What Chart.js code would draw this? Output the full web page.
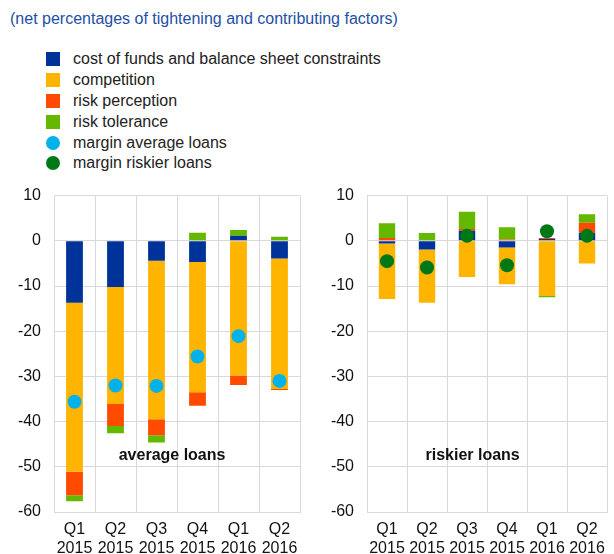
<!DOCTYPE html>
<html>
<head>
<meta charset="utf-8">
<script src="https://cdn.jsdelivr.net/npm/chart.js@4/dist/chart.umd.min.js"></script>
<style>
  body { margin: 0; background: #fff; font-family: "Liberation Sans", Arial, sans-serif; }
  #wrap { position: relative; width: 614px; height: 554px; overflow: hidden; }
  #title { position: absolute; left: 10px; top: 10px; font-size: 16px; color: #1e4fa5; }
  #legend { position: absolute; left: 46px; top: 49px; font-size: 16px; color: #222; }
  .row { height: 20.8px; display: flex; align-items: center; }
  .sw { width: 14px; height: 14px; margin-right: 13px; }
  .dot { border-radius: 50%; }
  .box { position: absolute; top: 173px; height: 381px; }
</style>
</head>
<body>
<div id="wrap">
  <div id="title">(net percentages of tightening and contributing factors)</div>
  <div id="legend"></div>
  <div class="box" style="left:0;width:307px"><canvas id="avg"></canvas></div>
  <div class="box" style="left:312px;width:302px"><canvas id="risk"></canvas></div>
</div>
<script>
// quarters
const quarters = [['Q1', '2015'], ['Q2', '2015'], ['Q3', '2015'], ['Q4', '2015'], ['Q1', '2016'], ['Q2', '2016']];

// average loans
const costFundsAvg = [-13.7, -10.2, -4.4, -4.7, 1.1, -3.9];
const competitionAvg = [-37.4, -25.9, -35.1, -28.8, -29.8, -28.9];
const riskPercAvg = [-5.2, -4.9, -3.5, -3.0, -2.1, -0.2];
const riskTolAvg = [-1.3, -1.6, -1.6, 1.8, 1.3, 0.9];
const marginAvg = [-35.6, -32.0, -32.1, -25.6, -21.1, -31.0];

// riskier loans
const costFundsRisk = [-0.6, -1.9, 2.2, -1.5, 0.4, 1.8];
const competitionRisk = [-12.3, -11.8, -8.0, -8.1, -12.2, -5.0];
const riskPercRisk = [0.6, 0, 0.4, 0.3, 0.2, 2.2];
const riskTolRisk = [3.3, 1.7, 3.8, 2.7, -0.3, 1.9];
const marginRisk = [-4.5, -5.9, 1.1, -5.4, 2.1, 1.1];

const yMin = -60, yMax = 10, yStep = 10;

const colors = {
  cost: '#003399',
  comp: '#ffb400',
  perc: '#ff4b00',
  tol: '#65b800',
  mAvg: '#00b1ea',
  mRisk: '#007816'
};

const legendItems = [
  ['cost of funds and balance sheet constraints', colors.cost, false],
  ['competition', colors.comp, false],
  ['risk perception', colors.perc, false],
  ['risk tolerance', colors.tol, false],
  ['margin average loans', colors.mAvg, true],
  ['margin riskier loans', colors.mRisk, true]
];

// build html legend
const leg = document.getElementById('legend');
legendItems.forEach(([txt, col, round]) => {
  const r = document.createElement('div');
  r.className = 'row';
  r.innerHTML = '<span class="sw' + (round ? ' dot' : '') + '" style="background:' + col + '"></span>' + txt;
  leg.appendChild(r);
});

// draws the panel caption inside the plot
const captionPlugin = {
  id: 'caption',
  afterDatasetsDraw(chart, args, opts) {
    const { ctx, chartArea, scales } = chart;
    ctx.save();
    ctx.font = 'bold 16px "Liberation Sans", Arial, sans-serif';
    ctx.fillStyle = '#111';
    ctx.textAlign = 'center';
    ctx.textBaseline = 'middle';
    ctx.fillText(opts.text, chartArea.left + opts.xFrac * (chartArea.right - chartArea.left), scales.y.getPixelForValue(opts.yVal));
    ctx.restore();
  }
};

function makePanel(canvasId, cost, comp, perc, tol, margin, marginColor, caption, capX, yWidth, padRight) {
  const bar = (data, col) => ({ type: 'bar', data: data, backgroundColor: col, borderWidth: 0, order: 1,
    categoryPercentage: 1, barPercentage: 0.41 });
  new Chart(document.getElementById(canvasId), {
    data: {
      labels: quarters,
      datasets: [
        bar(cost, colors.cost),
        bar(comp, colors.comp),
        bar(perc, colors.perc),
        bar(tol, colors.tol),
        { type: 'line', data: margin, showLine: false, order: 0,
          pointRadius: 7, pointHoverRadius: 7, pointBackgroundColor: marginColor,
          pointBorderWidth: 0, borderColor: marginColor }
      ]
    },
    options: {
      responsive: true,
      maintainAspectRatio: false,
      animation: false,
      layout: { padding: { top: 10, right: padRight, left: 0, bottom: 0 } },
      plugins: {
        legend: { display: false },
        tooltip: { enabled: false },
        caption: { text: caption, xFrac: capX, yVal: -47.5 }
      },
      scales: {
        x: {
          stacked: true,
          grid: { color: '#d9d9d9', drawTicks: false, offset: true },
          border: { color: '#d9d9d9' },
          ticks: { color: '#111', font: { size: 16, family: '"Liberation Sans", Arial' }, padding: 8, maxRotation: 0 },
          afterFit(s) { s.height = 42; }
        },
        y: {
          stacked: true,
          min: yMin, max: yMax,
          grid: { color: '#d9d9d9', drawTicks: false },
          border: { color: '#d9d9d9' },
          ticks: { stepSize: yStep, color: '#111', font: { size: 16, family: '"Liberation Sans", Arial' }, padding: 13 },
          afterFit(s) { s.width = yWidth; }
        }
      }
    },
    plugins: [captionPlugin]
  });
}

makePanel('avg', costFundsAvg, competitionAvg, riskPercAvg, riskTolAvg, marginAvg, colors.mAvg, 'average loans', 0.48, 54, 6);
makePanel('risk', costFundsRisk, competitionRisk, riskPercRisk, riskTolRisk, marginRisk, colors.mRisk, 'riskier loans', 0.44, 55, 1);
</script>
</body>
</html>
